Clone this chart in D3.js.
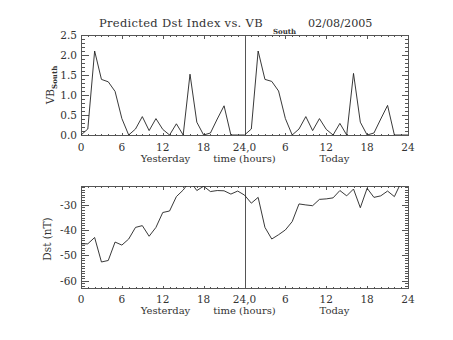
<!DOCTYPE html>
<html><head><meta charset="utf-8">
<script src="https://cdn.jsdelivr.net/npm/d3@7"></script>
<style>body{margin:0;background:#fff}svg{display:block}</style>
</head><body>
<script>
// ---- data (hourly) ----
const hoursYesterday = d3.range(0, 24);          // 0..23
const hoursToday = d3.range(24, 49);             // 24..48 (plotted as 0..24 of "Today")
const vbYesterday = [0, 0.15, 2.1, 1.39, 1.33, 1.09, 0.41, 0, 0.15, 0.46, 0.11, 0.41, 0.14, 0, 0.28, 0, 1.52, 0.32, 0, 0.05, 0.4, 0.73, 0, 0];
const vbToday = [0, 0.15, 2.1, 1.39, 1.34, 1.1, 0.41, 0, 0.15, 0.46, 0.11, 0.41, 0.14, 0, 0.29, 0, 1.54, 0.32, 0, 0.05, 0.4, 0.74, 0, 0, 0];
const dstYesterday = [-45.4, -45.4, -42.9, -52.6, -52.0, -44.7, -45.9, -43.5, -38.9, -38.2, -42.4, -38.9, -33.0, -32.4, -26.7, -24.1, -20.5, -24.3, -22.6, -24.7, -24.3, -24.4, -25.7, -24.5];
const dstToday = [-26.1, -29.3, -27.0, -38.9, -43.5, -41.8, -39.9, -36.6, -29.6, -30.0, -30.3, -27.8, -27.6, -27.2, -24.3, -26.4, -23.7, -31.1, -23.4, -27.0, -26.4, -24.5, -26.7, -21.0];
const xTickValues = [0, 6, 12, 18, 24, 30, 36, 42, 48];
const xTickLabels = ["0", "6", "12", "18", "24,0", "6", "12", "18", "24"];
const vbTicks = [0, 0.5, 1.0, 1.5, 2.0, 2.5];
const vbTickLabels = ["0.0", "0.5", "1.0", "1.5", "2.0", "2.5"];
const dstTicks = [-60, -50, -40, -30];
const dstTickLabels = ["-60", "-50", "-40", "-30"];
const titleMain = "Predicted Dst Index vs. VB";
const titleSub = "South";
const titleDate = "02/08/2005";

const W = 453, H = 340;
const FONT = "'DejaVu Serif', 'Liberation Serif', serif";
const INK = "#333";

const svg = d3.select("body").append("svg").attr("width", W).attr("height", H);

const x = d3.scaleLinear().domain([0, 48]).range([81, 408]);
const yTop = d3.scaleLinear().domain([0, 2.5]).range([135, 35]);
const yBot = d3.scaleLinear().domain([-62.9, -22.5]).range([288, 186]);

const vbData = hoursYesterday.map((h, i) => [h, vbYesterday[i]]).concat(hoursToday.map((h, i) => [h, vbToday[i]]));
const dstData = hoursYesterday.map((h, i) => [h, dstYesterday[i]]).concat(hoursToday.slice(0, dstToday.length).map((h, i) => [h, dstToday[i]]));

function panel(y, data, yMajor, yLabels, yMinorStep, id) {
  const [y0, y1] = y.range();
  const g = svg.append("g");
  svg.append("clipPath").attr("id", id).append("rect")
    .attr("x", x(0)).attr("y", y1).attr("width", x(48) - x(0)).attr("height", y0 - y1);
  g.append("rect").attr("x", x(0) + 0.5).attr("y", y1 + 0.5)
    .attr("width", x(48) - x(0)).attr("height", y0 - y1)
    .attr("fill", "none").attr("stroke", "#555").attr("stroke-width", 1).attr("shape-rendering", "crispEdges");
  const minorX = d3.range(0, 49, 1);
  const dom = y.domain();
  const minorY = d3.range(Math.ceil(dom[0] / yMinorStep) * yMinorStep, dom[1] + 1e-9, yMinorStep);
  const tickStyle = sel => { sel.select(".domain").remove(); sel.selectAll("line").attr("stroke", "#555").attr("shape-rendering", "crispEdges"); sel.selectAll("text").remove(); };
  g.append("g").attr("transform", `translate(0,${y0 + 0.5})`).call(d3.axisBottom(x).tickValues(minorX).tickSize(-1.5)).call(tickStyle);
  g.append("g").attr("transform", `translate(0,${y0 + 0.5})`).call(d3.axisBottom(x).tickValues(xTickValues).tickSize(-3)).call(tickStyle);
  g.append("g").attr("transform", `translate(0,${y1 + 0.5})`).call(d3.axisTop(x).tickValues(minorX).tickSize(-1.5)).call(tickStyle);
  g.append("g").attr("transform", `translate(0,${y1 + 0.5})`).call(d3.axisTop(x).tickValues(xTickValues).tickSize(-3)).call(tickStyle);
  g.append("g").attr("transform", `translate(${x(0) + 0.5},0)`).call(d3.axisLeft(y).tickValues(minorY).tickSize(-3.5)).call(tickStyle);
  g.append("g").attr("transform", `translate(${x(0) + 0.5},0)`).call(d3.axisLeft(y).tickValues(yMajor).tickSize(-7)).call(tickStyle);
  g.append("g").attr("transform", `translate(${x(48) + 0.5},0)`).call(d3.axisRight(y).tickValues(minorY).tickSize(-3.5)).call(tickStyle);
  g.append("g").attr("transform", `translate(${x(48) + 0.5},0)`).call(d3.axisRight(y).tickValues(yMajor).tickSize(-7)).call(tickStyle);
  g.selectAll(".yl").data(yMajor).enter().append("text")
    .attr("x", 77).attr("y", d => y(d) + 4)
    .attr("text-anchor", "end").attr("font-family", FONT).attr("font-size", 10.5).attr("fill", INK)
    .text((d, i) => yLabels[i]);
  g.append("line").attr("x1", x(24) + 0.5).attr("x2", x(24) + 0.5).attr("y1", y1).attr("y2", y0)
    .attr("stroke", "#555").attr("shape-rendering", "crispEdges");
  g.append("path").datum(data).attr("clip-path", `url(#${id})`)
    .attr("d", d3.line().x(d => x(d[0])).y(d => y(d[1])))
    .attr("fill", "none").attr("stroke", "#222").attr("stroke-width", 0.9);
  return g;
}

panel(yTop, vbData, vbTicks, vbTickLabels, 0.1, "clipTop");
panel(yBot, dstData, dstTicks, dstTickLabels, 1, "clipBot");

function xLabels(base, titleBase) {
  svg.selectAll(null).data(xTickValues).enter().append("text")
    .attr("x", d => x(d)).attr("y", base)
    .attr("text-anchor", "middle").attr("font-family", FONT).attr("font-size", 10.5).attr("fill", INK)
    .text((d, i) => xTickLabels[i]);
  const t = [["Yesterday", 165.5], ["time (hours)", 244.5], ["Today", 334.5]];
  t.forEach(([s, cx]) => svg.append("text").attr("x", cx).attr("y", titleBase)
    .attr("text-anchor", "middle").attr("font-family", FONT).attr("font-size", 10).attr("fill", INK).text(s));
}
xLabels(150.5, 161.5);
xLabels(302.5, 314);

svg.append("text").attr("x", 99).attr("y", 27).attr("font-family", FONT).attr("font-size", 11.5)
  .attr("letter-spacing", 0.3).attr("fill", INK).text(titleMain);
svg.append("text").attr("x", 273).attr("y", 34).attr("font-family", FONT).attr("font-size", 7).attr("font-weight", "bold").attr("fill", INK).text(titleSub);
svg.append("text").attr("x", 308).attr("y", 27).attr("font-family", FONT).attr("font-size", 11.2).attr("fill", INK).text(titleDate);

const yt1 = svg.append("text").attr("transform", "translate(54,85) rotate(-90)")
  .attr("text-anchor", "middle").attr("font-family", FONT).attr("font-size", 10.5).attr("fill", INK);
yt1.append("tspan").text("VB");
yt1.append("tspan").attr("dy", 3).attr("font-size", 7).attr("font-weight", "bold").text("South");
svg.append("text").attr("transform", "translate(51,239) rotate(-90)")
  .attr("text-anchor", "middle").attr("font-family", FONT).attr("font-size", 10.5).attr("fill", INK).text("Dst (nT)");
</script>
</body></html>
